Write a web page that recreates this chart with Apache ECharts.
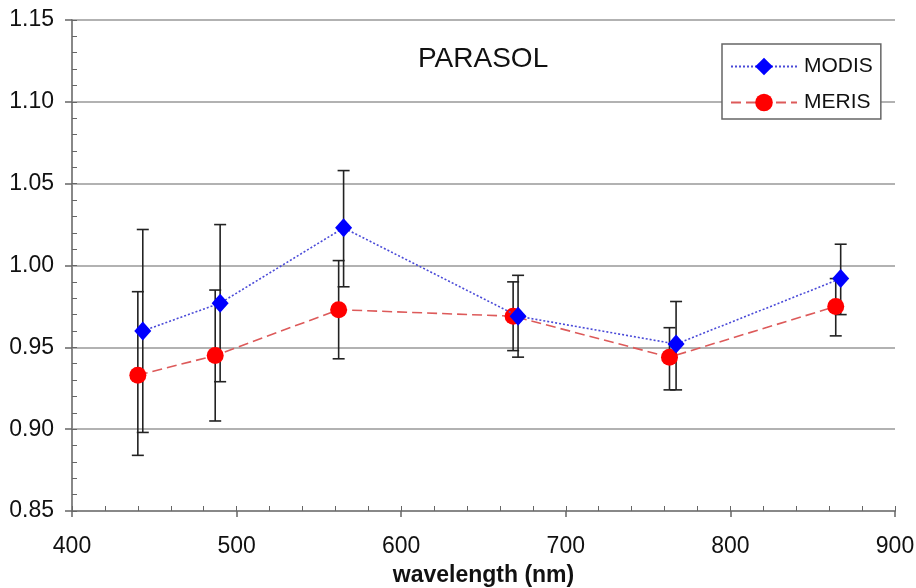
<!DOCTYPE html>
<html>
<head>
<meta charset="utf-8">
<script src="https://cdn.jsdelivr.net/npm/echarts@6/dist/echarts.min.js"></script>
<style>
  html, body { margin: 0; padding: 0; background: #fff; }
  #chart { width: 916px; height: 588px; }
</style>
</head>
<body>
<div id="chart"></div>
<script>
// values
var modisWl = [443, 490, 565, 671, 767, 867];
var modisVal = [0.960, 0.977, 1.023, 0.969, 0.952, 0.992];
var modisLow = [0.898, 0.929, 0.987, 0.944, 0.924, 0.970];
var modisHigh = [1.022, 1.025, 1.058, 0.994, 0.978, 1.013];

var merisWl = [440, 487, 562, 668, 763, 864];
var merisVal = [0.933, 0.945, 0.973, 0.969, 0.944, 0.975];
var merisLow = [0.884, 0.905, 0.943, 0.948, 0.924, 0.957];
var merisHigh = [0.984, 0.985, 1.003, 0.990, 0.962, 0.992];

var font = '"Liberation Sans", Arial, sans-serif';

function pairs(xs, ys) {
    return xs.map(function (x, i) { return [x, ys[i]]; });
}
function bars(xs, lo, hi) {
    return xs.map(function (x, i) { return [x, lo[i], hi[i]]; });
}

// error bar with caps
function renderErr(params, api) {
    var x = api.value(0);
    var lo = api.coord([x, api.value(1)]);
    var hi = api.coord([x, api.value(2)]);
    var w = 6;
    var style = { stroke: '#222', lineWidth: 1.6 };
    return {
        type: 'group',
        children: [
            { type: 'line', shape: { x1: lo[0], y1: lo[1], x2: hi[0], y2: hi[1] }, style: style },
            { type: 'line', shape: { x1: lo[0] - w, y1: lo[1], x2: lo[0] + w, y2: lo[1] }, style: style },
            { type: 'line', shape: { x1: hi[0] - w, y1: hi[1], x2: hi[0] + w, y2: hi[1] }, style: style }
        ]
    };
}

var chart = echarts.init(document.getElementById('chart'));
chart.setOption({
    backgroundColor: '#fff',
    animation: false,
    title: {
        text: 'PARASOL',
        left: 413,
        top: 40,
        textStyle: { fontFamily: font, fontSize: 28, fontWeight: 'normal', color: '#111' }
    },
    legend: {
        left: 722,
        top: 44,
        orient: 'vertical',
        data: ['MODIS', 'MERIS'],
        backgroundColor: '#fff',
        borderColor: '#666',
        borderWidth: 1.5,
        padding: [12, 8, 6, 8],
        itemGap: 15,
        itemWidth: 66,
        itemHeight: 22,
        textStyle: { fontFamily: font, fontSize: 21, color: '#111', padding: [0, 0, 0, 2] }
    },
    grid: { left: 72, right: 21, top: 20, bottom: 77, outerBoundsMode: 'none' },
    xAxis: [{
        type: 'value',
        min: 400,
        max: 900,
        interval: 100,
        name: 'wavelength (nm)',
        nameLocation: 'middle',
        nameGap: 53,
        nameTextStyle: { fontFamily: font, fontSize: 23, fontWeight: 'bold', color: '#111' },
        axisLine: { lineStyle: { color: '#888', width: 2 } },
        axisTick: { length: 6, lineStyle: { color: '#666', width: 1.5 } },
        axisLabel: { fontFamily: font, fontSize: 23, color: '#111', margin: 24 },
        splitLine: { show: false }
    }, {
        type: 'value',
        position: 'bottom',
        min: 400,
        max: 900,
        interval: 20,
        axisLine: { show: false },
        axisTick: { inside: true, length: 5, lineStyle: { color: '#666', width: 1 } },
        axisLabel: { show: false },
        splitLine: { show: false }
    }],
    yAxis: [{
        type: 'value',
        min: 0.85,
        max: 1.15,
        interval: 0.05,
        axisLine: { show: true, lineStyle: { color: '#888', width: 2 } },
        axisTick: { show: true, length: 7, lineStyle: { color: '#666', width: 1.5 } },
        axisLabel: {
            fontFamily: font, fontSize: 23, color: '#111', margin: 18,
            formatter: function (v) { return v.toFixed(2); }
        },
        splitLine: { lineStyle: { color: '#999', width: 1.6 } }
    }, {
        type: 'value',
        position: 'left',
        min: 0.85,
        max: 1.15,
        interval: 0.01,
        axisLine: { show: false },
        axisTick: { show: true, inside: true, length: 5, lineStyle: { color: '#666', width: 1 } },
        axisLabel: { show: false },
        splitLine: { show: false }
    }],
    series: [{
        name: 'MODIS err',
        type: 'custom',
        renderItem: renderErr,
        encode: { x: 0, y: [1, 2] },
        data: bars(modisWl, modisLow, modisHigh),
        z: 1,
        silent: true
    }, {
        name: 'MERIS err',
        type: 'custom',
        renderItem: renderErr,
        encode: { x: 0, y: [1, 2] },
        data: bars(merisWl, merisLow, merisHigh),
        z: 1,
        silent: true
    }, {
        name: 'MODIS',
        type: 'line',
        data: pairs(modisWl, modisVal),
        symbol: 'diamond',
        symbolSize: [17, 19],
        itemStyle: { color: '#0000ff' },
        lineStyle: { color: '#4a4ad8', width: 1.6, type: [2, 2] },
        z: 4
    }, {
        name: 'MERIS',
        type: 'line',
        data: pairs(merisWl, merisVal),
        symbol: 'circle',
        symbolSize: 17,
        itemStyle: { color: '#ff0000' },
        lineStyle: { color: '#dd5a5a', width: 1.6, type: [10, 5] },
        z: 3
    }]
});
</script>
</body>
</html>
